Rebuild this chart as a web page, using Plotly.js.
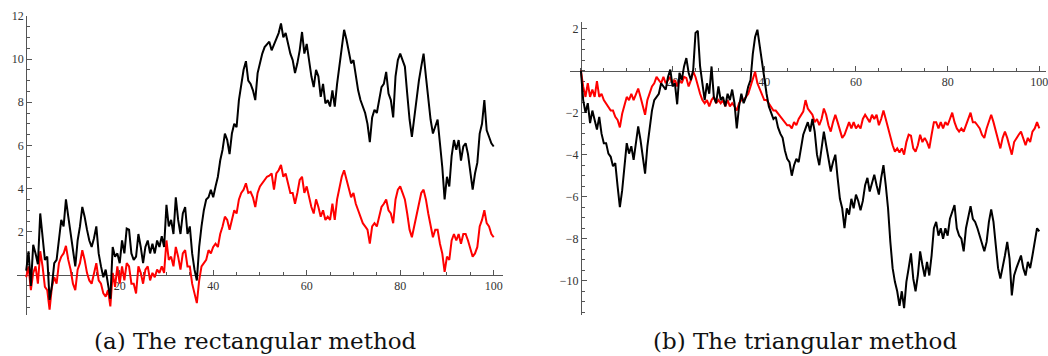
<!DOCTYPE html>
<html>
<head>
<meta charset="utf-8">
<script src="https://cdn.plot.ly/plotly-3.0.1.min.js"></script>
<style>html,body{margin:0;padding:0;background:#fff;}#chart{width:1048px;height:356px;}</style>
</head>
<body>
<div id="chart"></div>
<script>
// sample grid: t = 0, 0.5, ..., 100
const tGrid = Array.from({length: 201}, (_, i) => i / 2);

// (a) rectangular method
const rectBlack = [
  0.2, 1.1, -0.5, 1.4, 1.0, 0.5, 2.85, 1.9, 0.7, 0.85,
  -1.15, -0.5, 0.55, 0.7, 1.6, 2.55, 2.25, 3.5, 2.7, 1.9,
  1.0, 0.4, 1.6, 2.25, 3.15, 2.7, 2.1, 1.6, 1.3, 1.7,
  2.25, 1.0, 0.4, -0.1, 0.25, -0.4, -1.1, 1.3, 0.85, 1.0,
  0.55, 1.6, 1.0, 2.15, 2.1, 1.0, 0.7, 0.85, 1.9, 1.3,
  0.55, 1.3, 1.6, 1.0, 1.45, 1.0, 1.6, 1.3, 1.8, 1.3,
  3.25, 2.25, 2.55, 1.9, 3.6, 2.55, 1.9, 2.85, 3.15, 1.9,
  2.25, 1.0, 0.25, -0.25, 1.3, 2.25, 3.0, 3.5, 3.6, 3.95,
  3.6, 4.1, 4.55, 5.3, 5.8, 6.55, 6.25, 5.6, 6.55, 7.0,
  6.85, 8.1, 8.85, 9.5, 9.9, 9.0, 8.85, 8.55, 8.1, 9.35,
  9.8, 10.25, 10.55, 10.7, 10.8, 10.4, 10.7, 11.0, 11.2, 11.65,
  11.0, 11.2, 10.7, 10.25, 9.95, 9.35, 9.8, 10.4, 11.25, 10.25,
  10.7, 9.95, 9.2, 8.7, 9.5, 9.2, 8.25, 8.85, 7.95, 8.1,
  7.8, 8.55, 7.8, 8.85, 9.65, 10.7, 11.35, 10.9, 10.4, 9.8,
  9.95, 9.2, 8.55, 8.1, 7.8, 7.5, 7.0, 6.15, 7.3, 7.65,
  7.5, 8.1, 8.7, 8.85, 9.4, 8.4, 8.1, 7.3, 9.2, 9.95,
  10.25, 9.95, 9.65, 8.4, 7.2, 6.4, 7.3, 8.25, 9.0, 9.65,
  10.25, 9.2, 8.1, 7.2, 6.55, 6.85, 7.2, 6.1, 5.0, 3.5,
  4.55, 4.1, 5.5, 6.25, 5.8, 6.25, 5.3, 5.95, 6.1, 5.6,
  4.85, 3.95, 4.7, 5.2, 6.55, 7.0, 8.1, 6.7, 6.4, 6.1,
  5.95
];
const rectRed = [
  -0.1, 0.4, -0.7, 0.1, 0.4, -0.4, 1.1, 0.4, -0.55, -0.7,
  -1.6, -0.55, -0.1, -0.4, 0.55, 0.85, 1.0, 1.35, 0.7, 0.25,
  -0.4, -0.7, 0.25, 0.55, 1.15, 0.7, 0.1, -0.25, -0.4, 0.1,
  0.55, -0.25, -0.4, -0.85, -1.0, -0.7, -1.45, 0.1, -0.55, 0.4,
  -0.4, 0.4, -0.25, 0.55, 0.4, -0.4, -0.4, -0.85, 0.4, 0.1,
  -0.4, 0.25, 0.4, -0.25, 0.1, -0.1, 0.25, 0.1, 0.4, 0.1,
  1.6, 0.7, 0.85, 0.4, 1.3, 0.85, 0.25, 1.0, 1.15, 0.4,
  0.4, -0.4, -0.85, -1.3, -0.25, 0.4, 0.55, 0.7, 1.15, 1.0,
  1.3, 1.45, 1.3, 1.9, 2.25, 2.7, 2.55, 2.1, 2.55, 3.0,
  2.85, 3.5, 3.8, 3.95, 4.25, 3.8, 3.85, 3.6, 3.15, 3.8,
  4.1, 4.25, 4.4, 4.55, 4.6, 4.7, 3.95, 4.7, 4.85, 5.1,
  4.55, 4.7, 4.25, 3.8, 3.8, 3.3, 3.8, 4.4, 4.55, 3.8,
  4.1, 3.6, 3.15, 2.85, 3.5, 3.15, 2.7, 3.0, 2.55, 2.7,
  2.55, 3.3, 2.55, 3.5, 4.1, 4.55, 4.85, 4.4, 3.95, 3.6,
  3.8, 3.3, 3.0, 2.7, 2.4, 2.25, 2.1, 1.45, 2.25, 2.4,
  2.25, 2.7, 3.15, 3.3, 3.5, 3.0, 2.85, 2.4, 3.5, 3.95,
  4.1, 3.8, 3.5, 2.85, 2.1, 1.75, 2.25, 2.85, 3.3, 3.8,
  3.95, 3.5, 2.85, 2.25, 1.75, 2.1, 2.1, 1.45, 1.0, 0.15,
  0.85, 0.7, 1.6, 1.9, 1.6, 1.9, 1.45, 1.9, 1.9, 1.6,
  1.15, 0.85, 1.0, 1.3, 2.25, 2.55, 3.0, 2.4, 2.25, 1.9,
  1.75
];

// (b) triangular method
const triBlack = [
  0, -1.4, -2.0, -1.55, -2.5, -1.9, -2.35, -2.8, -2.2, -3.0,
  -3.45, -3.45, -3.95, -4.1, -4.55, -4.4, -5.5, -6.5, -5.7, -4.4,
  -3.45, -3.95, -3.6, -4.25, -3.3, -2.65, -3.3, -4.25, -4.9, -3.6,
  -2.65, -1.9, -1.4, -1.25, -1.1, -0.6, -0.75, -0.9, -0.3, 0.05,
  -0.75, -0.6, -1.6, -0.1, -0.45, 0.2, 0.6, -0.1, -0.45, 0.05,
  1.8, 1.9, 0.2, -0.75, -1.4, -0.6, -1.1, 0.2, -1.25, -1.55,
  -0.75, -1.4, -1.25, -1.7, -1.1, -1.4, -0.9, -1.55, -2.75, -1.7,
  -1.1, -1.55, -1.25, -0.75, -0.45, 0.8, 1.6, 1.95, 1.15, 0.35,
  -0.45, -1.1, -1.7, -2.0, -2.3, -2.2, -2.7, -3.0, -3.2, -3.8,
  -4.2, -4.35, -5.0, -4.5, -4.2, -4.35, -3.7, -3.05, -2.75, -2.45,
  -2.9, -2.3, -2.9, -4.0, -4.5, -3.55, -2.9, -3.55, -4.2, -4.8,
  -4.35, -4.0, -5.1, -6.1, -6.55, -7.5, -6.55, -6.85, -6.1, -6.55,
  -5.9, -6.2, -6.65, -6.2, -5.45, -5.1, -5.75, -5.3, -4.95, -5.45,
  -5.9, -5.1, -4.5, -5.45, -6.55, -8.15, -9.4, -10.05, -10.5, -11.2,
  -10.5, -11.3, -10.05, -9.4, -8.7, -9.9, -10.5, -9.75, -8.6, -9.25,
  -9.8, -9.1, -9.75, -8.8, -7.5, -7.2, -7.85, -7.5, -8.0, -7.5,
  -7.85, -7.05, -6.7, -6.4, -7.5, -7.85, -8.0, -8.6, -7.5, -7.05,
  -6.45, -7.05, -7.2, -7.5, -7.85, -8.3, -8.6, -8.15, -7.2, -6.6,
  -7.2, -8.3, -9.4, -9.9, -9.4, -8.8, -8.15, -8.95, -10.7, -9.75,
  -9.4, -9.1, -8.8, -9.4, -9.75, -9.1, -9.4, -8.8, -8.15, -7.5,
  -7.65
];
const triRed = [
  0, -0.75, -1.25, -0.6, -1.25, -0.9, -1.25, -0.5, -1.25, -1.1,
  -1.4, -1.55, -1.7, -1.9, -1.9, -2.2, -2.35, -2.7, -2.05, -1.7,
  -1.25, -1.4, -1.1, -1.4, -1.1, -0.85, -1.25, -1.7, -2.1, -1.4,
  -1.1, -0.75, -0.6, -0.3, -0.45, -0.6, -0.3, -0.6, -0.45, -0.3,
  -0.6, -0.45, -0.75, -0.45, -0.6, -0.3, -0.35, -0.75, -0.45, -0.05,
  -0.3, -0.75, -1.1, -1.4, -1.55, -1.4, -1.7, -1.4, -1.25, -1.55,
  -1.4, -1.55, -1.4, -1.7, -1.4, -1.7, -1.55, -1.7, -1.9, -1.55,
  -1.4, -1.4, -1.25, -1.1, -0.75, -0.45, -0.05, -0.6, -0.9, -1.1,
  -1.4, -1.4, -1.55, -1.7, -1.9, -1.9, -2.05, -2.2, -2.35, -2.5,
  -2.6, -2.6, -2.75, -2.45, -2.6, -2.3, -2.1, -1.95, -1.4, -1.8,
  -1.95, -2.1, -2.45, -2.3, -2.6, -2.3, -1.8, -2.1, -2.6, -2.9,
  -2.45, -2.1, -2.45, -2.9, -3.2, -3.05, -2.75, -2.45, -2.75, -2.45,
  -2.75, -2.6, -2.75, -2.3, -2.1, -2.3, -2.45, -2.1, -2.3, -2.1,
  -2.6, -2.3, -1.9, -2.3, -2.75, -3.2, -3.55, -3.85, -3.7, -3.9,
  -3.7, -4.0, -3.4, -3.05, -3.1, -3.7, -3.85, -3.55, -3.05, -3.4,
  -3.2, -3.4, -3.7, -3.05, -2.45, -2.45, -2.75, -2.45, -2.75, -2.45,
  -2.6, -2.3, -2.0, -2.45, -2.75, -2.9, -2.75, -2.9, -2.6, -2.3,
  -2.0, -2.45, -2.45, -2.6, -2.75, -3.05, -3.2, -2.75, -2.45, -2.1,
  -2.45, -2.9, -3.4, -3.7, -3.2, -2.9, -3.2, -3.55, -4.0, -3.4,
  -3.2, -3.05, -2.9, -3.2, -3.55, -3.2, -3.4, -2.9, -2.75, -2.45,
  -2.75
];

const xTicks = [20, 40, 60, 80, 100];
const yTicksA = [2, 4, 6, 8, 10, 12];
const yTicksB = [2, -2, -4, -6, -8, -10];
const captions = ["(a) The rectangular method", "(b) The triangular method"];

// geometry (pixel based, margins are zero)
const W = 1048, H = 356;
const px = v => v / W, py = v => (H - v) / H;
const A = {xr: [-2, 102], xd: [px(16.85), px(503.05)], yr: [-1.85, 12.0], yd: [py(315), py(15.8)]};
const B = {xr: [-2.4, 101.5], xd: [px(569.9), px(1046.2)], yr: [-11.63, 2.33], yd: [py(315), py(21.7)]};
function zeroPos(r, d) { return d[0] + (0 - r[0]) / (r[1] - r[0]) * (d[1] - d[0]); }

const axCol = '#555';
const tickFont = {family: "'Liberation Serif', 'Times New Roman', serif", size: 12, color: '#333'};
function xAx(g) {
  return {domain: g.xd, range: g.xr, anchor: 'free', position: zeroPos(g.yr, g.yd),
    tickmode: 'array', tickvals: xTicks, ticks: 'inside', ticklen: 5, tickwidth: 1, tickcolor: axCol,
    minor: {tickmode: 'linear', tick0: 0, dtick: 5, ticks: 'inside', ticklen: 3, tickcolor: axCol},
    showline: true, linecolor: axCol, linewidth: 1, showgrid: false, zeroline: false,
    tickfont: tickFont, layer: 'below traces', fixedrange: true, automargin: false,
    ticklabeloverflow: 'allow'};
}
function yAx(g, vals) {
  return {domain: g.yd, range: g.yr, anchor: 'free', position: zeroPos(g.xr, g.xd),
    tickmode: 'array', tickvals: vals, ticks: 'inside', ticklen: 5, tickwidth: 1, tickcolor: axCol,
    minor: {tickmode: 'linear', tick0: 0, dtick: 0.5, ticks: 'inside', ticklen: 3, tickcolor: axCol},
    showline: true, linecolor: axCol, linewidth: 1, showgrid: false, zeroline: false,
    tickfont: tickFont, layer: 'below traces', fixedrange: true, automargin: false};
}

const lineW = 2.0;
const traces = [
  {x: tGrid, y: rectRed, xaxis: 'x', yaxis: 'y', mode: 'lines', line: {color: '#ff0000', width: lineW}},
  {x: tGrid, y: rectBlack, xaxis: 'x', yaxis: 'y', mode: 'lines', line: {color: '#000000', width: lineW}},
  {x: tGrid, y: triRed, xaxis: 'x2', yaxis: 'y2', mode: 'lines', line: {color: '#ff0000', width: lineW}},
  {x: tGrid, y: triBlack, xaxis: 'x2', yaxis: 'y2', mode: 'lines', line: {color: '#000000', width: lineW}}
];

const capFont = {family: "'DejaVu Serif', 'Liberation Serif', serif", size: 23, color: '#111'};
const layout = {
  width: W, height: H, margin: {l: 0, r: 0, t: 0, b: 0},
  paper_bgcolor: '#fff', plot_bgcolor: 'rgba(0,0,0,0)', showlegend: false,
  xaxis: xAx(A), yaxis: yAx(A, yTicksA),
  xaxis2: xAx(B), yaxis2: yAx(B, yTicksB),
  annotations: [
    {text: captions[0], xref: 'paper', yref: 'paper', x: px(255), y: py(341), xanchor: 'center', yanchor: 'middle',
      showarrow: false, font: capFont},
    {text: captions[1], xref: 'paper', yref: 'paper', x: px(805), y: py(341), xanchor: 'center', yanchor: 'middle',
      showarrow: false, font: capFont}
  ]
};
Plotly.newPlot('chart', traces, layout, {displayModeBar: false, staticPlot: true});
</script>
</body>
</html>
